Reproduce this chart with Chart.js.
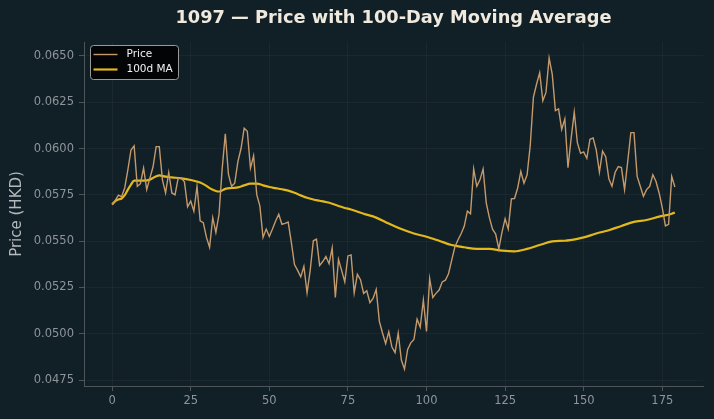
<!DOCTYPE html>
<html>
<head>
<meta charset="utf-8">
<script src="https://cdn.jsdelivr.net/npm/chart.js@4.4.1/dist/chart.umd.min.js"></script>
<style>
  html, body { margin: 0; padding: 0; background: #111f26; }
  #wrap { width: 714px; height: 419px; }
</style>
</head>
<body>
<div id="wrap"><canvas id="maChart" width="714" height="419"></canvas></div>
<script>
// 1097 — daily price vs 100-day moving average

const TITLE = '1097 — Price with 100-Day Moving Average';
const Y_LABEL = 'Price (HKD)';

// price, one value per day (day 0..179)
const PRICE = [
  0.05698, 0.0572, 0.05748, 0.0574, 0.05787, 0.05885, 0.05992, 0.06014, 0.05796, 0.0581,
  0.05894, 0.05778, 0.0584, 0.0590, 0.0601, 0.0601, 0.0583, 0.0576, 0.0587, 0.0576,
  0.0575, 0.0584, 0.0584, 0.0582, 0.05685, 0.05716, 0.05662, 0.05796, 0.0561, 0.0560,
  0.0552, 0.05467, 0.05627, 0.05547, 0.05645, 0.0589, 0.0608, 0.0586, 0.05796, 0.05813,
  0.05929, 0.0600, 0.0611, 0.06093, 0.05894, 0.05961, 0.05751, 0.05689, 0.0552, 0.05565,
  0.05525, 0.05565, 0.05609, 0.05645, 0.05591, 0.05596, 0.05603, 0.05493, 0.05374, 0.05342,
  0.05307, 0.05364, 0.05221, 0.05342, 0.05502, 0.05511, 0.05369, 0.0539, 0.05417, 0.05378,
  0.05463, 0.05196, 0.05401, 0.05342, 0.0528, 0.0542, 0.05426, 0.05221, 0.05321, 0.05292,
  0.05218, 0.05232, 0.05168, 0.05191, 0.05239, 0.05067, 0.05004, 0.04947, 0.05011, 0.04928,
  0.04898, 0.05004, 0.04858, 0.04809, 0.04915, 0.04951, 0.04969, 0.05079, 0.05036, 0.05182,
  0.05013, 0.05298, 0.05196, 0.05218, 0.05236, 0.0528, 0.05289, 0.05324, 0.05396, 0.05467,
  0.05506, 0.0554, 0.0558, 0.05662, 0.05648, 0.0589, 0.05796, 0.05831, 0.0589, 0.05707,
  0.05627, 0.05565, 0.05538, 0.05458, 0.05547, 0.05621, 0.05565, 0.05728, 0.0573, 0.05787,
  0.05876, 0.05813, 0.05858, 0.06018, 0.06276, 0.06347, 0.06409, 0.06258, 0.06303, 0.06489,
  0.064, 0.06205, 0.06214, 0.06103, 0.0616, 0.05897, 0.06054, 0.06196, 0.0603, 0.05974,
  0.05982, 0.05947, 0.0605, 0.06057, 0.05991, 0.05872, 0.05986, 0.05956, 0.05837, 0.05796,
  0.05872, 0.05902, 0.05897, 0.05778, 0.05929, 0.06086, 0.06086, 0.05849, 0.05796, 0.05742,
  0.05778, 0.05796, 0.05858, 0.05822, 0.0576, 0.0568, 0.05582, 0.05591, 0.05849, 0.05792
];
const DAYS = PRICE.map((_, i) => i);

// 100d MA at these days
const MA_DAYS = [
  0, 1, 2, 3, 4, 5, 6, 7, 10, 12, 13, 14, 15, 17, 19, 22, 25, 28, 30, 31,
  33, 34, 36, 38, 40, 42, 44, 46, 48, 50, 52, 54, 56, 58, 60, 62, 64, 66, 68, 70,
  72, 74, 76, 80, 84, 88, 92, 96, 100, 104, 108, 112, 116, 120, 124, 128, 132, 136, 140, 144,
  148, 150, 154, 158, 162, 166, 170, 174, 178, 179
];
const MA_VALUES = [
  0.05698, 0.05716, 0.05725, 0.0573, 0.05748, 0.05778, 0.05805, 0.05827, 0.05827, 0.05832,
  0.05841, 0.0585, 0.05855, 0.05848, 0.05844, 0.05839, 0.0583, 0.05816, 0.05798, 0.05786,
  0.05771, 0.05768, 0.05782, 0.05787, 0.0579, 0.05801, 0.0581, 0.05811, 0.05801, 0.05792,
  0.05786, 0.0578, 0.05773, 0.05761, 0.05747, 0.05734, 0.05725, 0.05718, 0.05711, 0.05702,
  0.0569, 0.05679, 0.05671, 0.05648, 0.05627, 0.05595, 0.05565, 0.05541, 0.05524, 0.05502,
  0.05479, 0.05467, 0.05458, 0.05458, 0.05449, 0.05445, 0.05458, 0.05479, 0.05499, 0.05502,
  0.05512, 0.0552, 0.05541, 0.05559, 0.05582, 0.05604, 0.05614, 0.05632, 0.05648, 0.05655
];

const X_TICK_STEP = 25;
const Y_TICK_STEP = 0.0025;

const BG = '#111f26';
const PRICE_COLOR = '#c49a6c';
const MA_COLOR = '#e2b81c';
const TICK_COLOR = '#8e959a';
const GRID_COLOR = 'rgba(255,255,255,0.04)';
const SPINE_COLOR = '#4e5559';
const FONT = "'DejaVu Sans', sans-serif";

// title centred over the plot area + legend box in the upper left
const decorPlugin = {
  id: 'decor',
  beforeDraw(chart) {
    const c = chart.ctx;
    c.save();
    c.fillStyle = BG;
    c.fillRect(0, 0, chart.width, chart.height);
    c.restore();
  },
  afterDraw(chart) {
    const c = chart.ctx;
    const area = chart.chartArea;
    c.save();
    c.fillStyle = '#efe9de';
    c.font = `bold 17.8px ${FONT}`;
    c.textAlign = 'center';
    c.textBaseline = 'middle';
    c.fillText(TITLE, (area.left + area.right) / 2, 18);

    // legend
    const bx = 90.5, by = 45.5, bw = 88, bh = 34;
    c.beginPath();
    c.roundRect(bx, by, bw, bh, 3);
    c.fillStyle = 'rgba(0,0,0,0.85)';
    c.fill();
    c.strokeStyle = '#9a9a9a';
    c.lineWidth = 1;
    c.stroke();

    c.font = `10.5px ${FONT}`;
    c.textAlign = 'left';
    chart.data.datasets.forEach((ds, i) => {
      const y = by + 9 + i * 15;
      c.beginPath();
      c.moveTo(bx + 3, y);
      c.lineTo(bx + 27, y);
      c.strokeStyle = ds.borderColor;
      c.lineWidth = ds.borderWidth;
      c.stroke();
      c.fillStyle = '#f2f2f2';
      c.fillText(ds.label, bx + 36, y);
    });
    c.restore();
  }
};

new Chart(document.getElementById('maChart'), {
  type: 'line',
  data: {
    datasets: [
      {
        label: 'Price',
        data: DAYS.map((d, i) => ({ x: d, y: PRICE[i] })),
        borderColor: PRICE_COLOR,
        borderWidth: 1.4,
        pointRadius: 0,
        tension: 0
      },
      {
        label: '100d MA',
        data: MA_DAYS.map((d, i) => ({ x: d, y: MA_VALUES[i] })),
        borderColor: MA_COLOR,
        borderWidth: 2.2,
        pointRadius: 0,
        cubicInterpolationMode: 'monotone'
      }
    ]
  },
  options: {
    responsive: false,
    animation: false,
    events: [],
    layout: { padding: { top: 42, right: 11, left: 0, bottom: 0 } },
    plugins: {
      legend: { display: false },
      title: { display: false },
      tooltip: { enabled: false }
    },
    scales: {
      x: {
        type: 'linear',
        min: -8.95,
        max: 187.95,
        afterFit(scale) { scale.height = 33; },
        ticks: {
          stepSize: X_TICK_STEP,
          includeBounds: false,
          color: TICK_COLOR,
          font: { family: FONT, size: 11.5 },
          padding: 3,
          maxRotation: 0,
          callback: v => v
        },
        grid: { color: GRID_COLOR, tickColor: SPINE_COLOR, tickLength: 5 },
        border: { display: true, color: SPINE_COLOR, width: 1 }
      },
      y: {
        min: 0.04718,
        max: 0.06575,
        afterFit(scale) { scale.width = 84; },
        title: {
          display: true,
          text: Y_LABEL,
          color: '#b4b9bc',
          font: { family: FONT, size: 15 },
          padding: { top: 8, bottom: 4 }
        },
        ticks: {
          stepSize: Y_TICK_STEP,
          includeBounds: false,
          color: TICK_COLOR,
          font: { family: FONT, size: 11.5 },
          padding: 5,
          callback: v => v.toFixed(4)
        },
        grid: { color: GRID_COLOR, tickColor: SPINE_COLOR, tickLength: 5 },
        border: { display: true, color: SPINE_COLOR, width: 1 }
      }
    }
  },
  plugins: [decorPlugin]
});
</script>
</body>
</html>
